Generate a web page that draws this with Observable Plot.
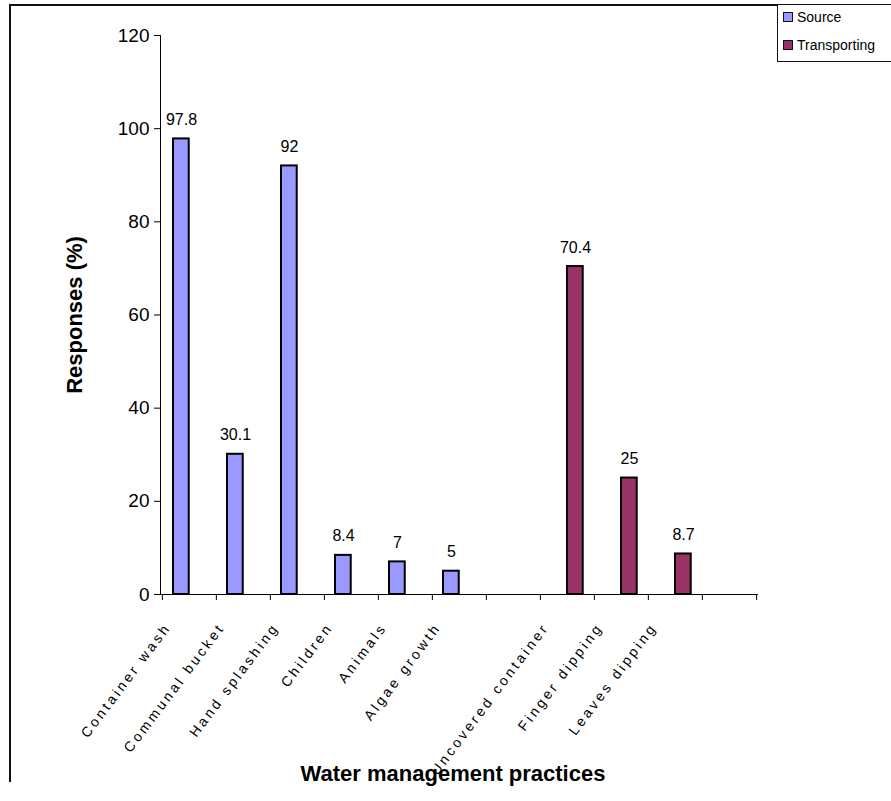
<!DOCTYPE html>
<html>
<head>
<meta charset="utf-8">
<script src="https://cdn.jsdelivr.net/npm/d3@7"></script>
<script src="https://cdn.jsdelivr.net/npm/@observablehq/plot@0.6"></script>
<style>
  html, body { margin: 0; padding: 0; background: #fff; }
  body { font-family: Arial, "Liberation Sans", sans-serif; }
  #wrap { position: relative; width: 891px; height: 801px; overflow: hidden; }
  #border { position: absolute; left: 9px; top: 4px; width: 890px; height: 778px;
            border-left: 2px solid #111; border-top: 2px solid #111; box-sizing: border-box; }
  #legend { position: absolute; left: 777px; top: 4px; width: 120px; height: 58px;
            border: 1px solid #111; box-sizing: border-box; background: #fff; font-size: 14px; }
  .item { position: absolute; left: 5px; display: flex; align-items: center; white-space: nowrap; }
  .sw { width: 8px; height: 8px; border: 1.5px solid #111; margin-right: 4px; }
  #chart { position: absolute; left: 0; top: 0; }
</style>
</head>
<body>
<div id="wrap">
  <div id="chart"></div>
  <div id="border"></div>
  <div id="legend"></div>
</div>
<script>
// ---- Data ----
const categories = ["Container wash", "Communal bucket", "Hand splashing", "Children", "Animals",
  "Algae growth", "", "Uncovered container", "Finger dipping", "Leaves dipping", " "];
const sourceValues = [97.8, 30.1, 92, 8.4, 7, 5, null, null, null, null, null];
const transportingValues = [null, null, null, null, null, null, null, 70.4, 25, 8.7, null];
const seriesNames = ["Source", "Transporting"];
const seriesColors = ["#9999ff", "#993366"];
const yTicks = [0, 20, 40, 60, 80, 100, 120];

const sourceData = categories.map((c, i) => ({category: c, value: sourceValues[i]})).filter(d => d.value != null);
const transData = categories.map((c, i) => ({category: c, value: transportingValues[i]})).filter(d => d.value != null);
const labelCats = categories.filter(c => c.trim() !== "");

const W = 891, H = 801;
const mL = 160, mR = 134, mT = 35, mB = 207;
const bw = (W - mL - mR) / categories.length;

const chart = Plot.plot({
  width: W,
  height: H,
  marginLeft: mL,
  marginRight: mR,
  marginTop: mT,
  marginBottom: mB,
  style: {fontFamily: "Arial, 'Liberation Sans', sans-serif", background: "transparent", color: "#000"},
  x: {type: "band", domain: categories, paddingInner: 0, paddingOuter: 0, axis: null},
  y: {domain: [0, 120], axis: null},
  marks: [
    Plot.axisY({ticks: yTicks, tickSize: 6, tickPadding: 5, fontSize: 19, label: null, stroke: "#000"}),
    Plot.barY(sourceData, {x: "category", y: "value", fill: seriesColors[0], stroke: "#000", strokeWidth: 2,
      insetLeft: 11, insetRight: bw - 27}),
    Plot.barY(transData, {x: "category", y: "value", fill: seriesColors[1], stroke: "#000", strokeWidth: 2,
      insetLeft: 27, insetRight: bw - 43}),
    Plot.text(sourceData, {x: "category", y: "value", text: d => String(d.value), dx: -8, dy: -19,
      fontSize: 16, fill: "#000"}),
    Plot.text(transData, {x: "category", y: "value", text: d => String(d.value), dx: 8, dy: -19,
      fontSize: 16, fill: "#000"}),
    Plot.frame({anchor: "left", stroke: "#000", strokeWidth: 1}),
    Plot.frame({anchor: "bottom", stroke: "#000", strokeWidth: 1}),
    // category boundary ticks
    Plot.ruleX(categories, {x: d => d, dx: -bw / 2, y1: 0, y2: 0, insetBottom: -6, stroke: "#000"}),
    Plot.ruleX(categories.slice(-1), {x: d => d, dx: bw / 2, y1: 0, y2: 0, insetBottom: -6, stroke: "#000"}),
    // rotated category labels
    Plot.text(labelCats, {x: d => d, frameAnchor: "bottom", text: d => d, rotate: -53,
      textAnchor: "end", dx: -18, dy: 33, fontSize: 14, fill: "#000"}),
    Plot.text(["Responses (%)"], {frameAnchor: "left", text: d => d, rotate: -90, dx: -86,
      textAnchor: "middle", fontSize: 22, fontWeight: "bold", fill: "#000"}),
    Plot.text(["Water management practices"], {frameAnchor: "bottom", text: d => d, dy: 186, dx: -6,
      textAnchor: "middle", fontSize: 22, fontWeight: "bold", fill: "#000"})
  ]
});
// spread out the rotated category label letters, as in the original
chart.querySelectorAll("text").forEach(t => {
  if (labelCats.includes(t.textContent)) t.style.letterSpacing = "3px";
});
document.getElementById("chart").appendChild(chart);

const legend = document.getElementById("legend");
seriesNames.forEach((name, i) => {
  const item = document.createElement("div");
  item.className = "item";
  item.style.top = (4 + i * 28) + "px";
  const sw = document.createElement("span");
  sw.className = "sw";
  sw.style.background = seriesColors[i];
  const t = document.createElement("span");
  t.textContent = name;
  item.appendChild(sw);
  item.appendChild(t);
  legend.appendChild(item);
});
</script>
</body>
</html>
